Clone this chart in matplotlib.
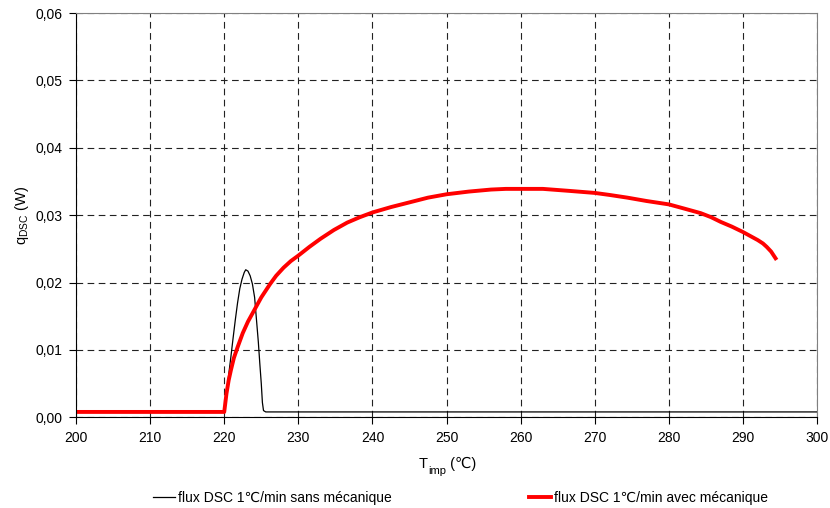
import matplotlib
matplotlib.use("Agg")
import matplotlib.pyplot as plt
from matplotlib.ticker import FuncFormatter, MultipleLocator

plt.rcParams["font.family"] = ["Liberation Sans", "DejaVu Sans"]

# flux DSC 1°C/min sans mecanique (black)
t_sans = [200, 210, 220.0, 220.3, 220.6, 220.9, 221.2, 221.5, 221.8, 222.1, 222.4, 222.7,
          222.9, 223.2, 223.5, 223.8, 224.1, 224.35, 224.6, 224.8, 225.0, 225.15, 225.3,
          225.6, 240, 260, 280, 300]
q_sans = [0.0008, 0.0008, 0.0008, 0.0035, 0.0063, 0.0090, 0.0118, 0.0145, 0.0170, 0.0191,
          0.0205, 0.0215, 0.0219, 0.0217, 0.0210, 0.0198, 0.0178, 0.0145, 0.0112, 0.0080,
          0.0050, 0.0022, 0.0010, 0.0008, 0.0008, 0.0008, 0.0008, 0.0008]

# flux DSC 1°C/min avec mecanique (red)
t_avec = [200, 210, 220, 220.3, 220.6, 220.9, 221.3, 221.8, 222.5, 223.2, 223.8, 224.4, 225,
          225.6, 226.2, 227, 228, 229, 230, 231.5, 233, 234.8, 236.6, 238.3, 240, 242.5, 245,
          247.5, 250, 253, 256, 258, 260, 263, 266.6, 270, 272, 274.4, 277, 280, 282, 284.3,
          285.7, 287, 288.5, 290, 291, 292, 292.7, 293.2, 293.8, 294.4]
q_avec = [0.0008, 0.0008, 0.0008, 0.0035, 0.0055, 0.0070, 0.0088, 0.0104, 0.0125, 0.0142,
          0.0154, 0.0166, 0.0178, 0.0188, 0.0198, 0.0210, 0.0222, 0.0232, 0.0240, 0.0253,
          0.0265, 0.0278, 0.0289, 0.0297, 0.0304, 0.0312, 0.0319, 0.0326, 0.0331, 0.0335,
          0.0338, 0.0339, 0.0339, 0.0339, 0.0336, 0.0333, 0.0330, 0.0326, 0.0321, 0.0316,
          0.0310, 0.0303, 0.0297, 0.0290, 0.0283, 0.0275, 0.0269, 0.0263, 0.0258, 0.0253,
          0.0246, 0.0236]

fig = plt.figure(figsize=(8.3, 5.08), dpi=100)
ax = fig.add_axes([0.0916, 0.1785, 0.8928, 0.7959])

ax.plot(t_sans, q_sans, color="black", lw=0.9, label="flux DSC 1℃/min sans mécanique")
ax.plot(t_avec, q_avec, color="#ff0000", lw=2.8, solid_joinstyle="round",
        label="flux DSC 1℃/min avec mécanique")

ax.set_xlim(200, 300)
ax.set_ylim(0, 0.06)
ax.xaxis.set_major_locator(MultipleLocator(10))
ax.yaxis.set_major_locator(MultipleLocator(0.01))
ax.yaxis.set_major_formatter(FuncFormatter(lambda v, p: f"{v:.2f}".replace(".", ",")))
ax.grid(True, color="#222222", lw=0.8, linestyle=(0, (6, 4)))
ax.tick_params(direction="out", length=5, labelsize=10, color="black", pad=5)

for s in ["top", "right"]:
    ax.spines[s].set_color("#808080")
ax.spines["left"].set_color("black")
ax.spines["bottom"].set_color("black")

ax.set_ylabel(r"q$_\mathregular{DSC}$ (W)", fontsize=10.5, labelpad=3)

# x label built from pieces so the ℃ glyph can fall back to DejaVu Sans
t1 = fig.text(419 / 830, 1 - 468 / 508, "T", fontsize=10.5, ha="left", va="baseline")
t2 = ax.annotate("imp", xy=(1, 0), xycoords=t1, fontsize=8, ha="left", va="center")
ax.annotate(" (℃)", xy=(1, 0), xycoords=(t2, t1), fontsize=10.5, ha="left", va="bottom")

leg = fig.legend(loc="center left", bbox_to_anchor=(153 / 830, 1 - 498 / 508), ncol=2,
                 frameon=False, fontsize=10, columnspacing=9.9, handlelength=1.6,
                 handletextpad=0.2, borderpad=0, borderaxespad=0)

fig.savefig("out.png", dpi=100)
